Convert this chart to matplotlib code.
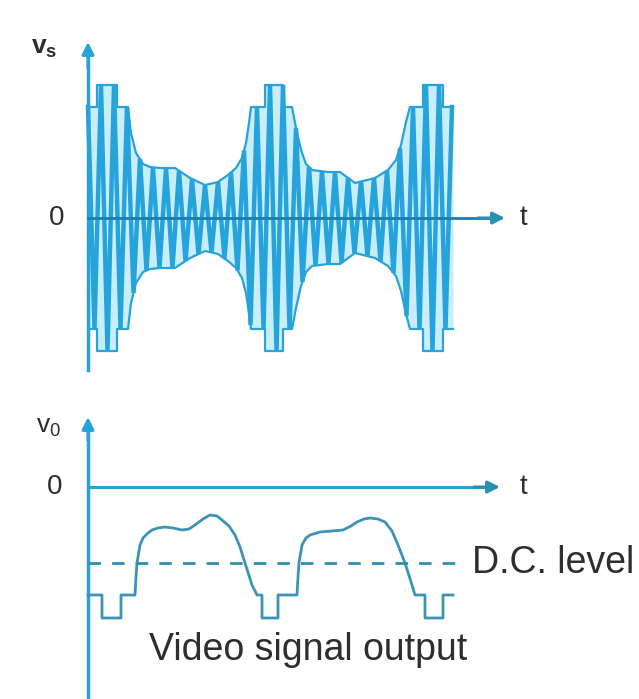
import matplotlib.pyplot as plt
import numpy as np

plt.rcParams['font.family'] = ['Liberation Sans', 'DejaVu Sans']
plt.rcParams['mathtext.default'] = 'regular'

# ---- top: modulated carrier v_s (time units, amplitude units) ----
# carrier peaks, alternating + / - , one every half cycle
half_cycle = 0.65
peak_amp = [11.1, 11.1, 13.3, 13.3, 13.3, 11.1, 11.1, 7.5, 5.9, 5.25,
            5.07, 5.0, 5.0, 5.0, 4.73, 4.3, 3.9, 3.6, 3.3, 3.45,
            3.6, 4.05, 4.55, 5.25, 6.75, 10.7, 11.1, 11.1, 13.3, 13.3,
            13.3, 11.1, 9.0, 6.4, 5.1, 4.75, 4.67, 4.6, 4.6, 4.5,
            4.0, 3.55, 3.7, 3.8, 4.0, 4.35, 4.75, 5.5, 7.0, 9.8,
            11.1, 11.1, 13.3, 13.3, 13.3, 11.1, 11.1]

# envelope outline of v_s
env_t = [0.0, 0.9, 0.9, 2.9, 2.9, 4.0, 4.3, 4.8, 5.5, 6.2, 7.2, 8.7, 10.2, 11.7,
         13.0, 14.0, 14.8, 15.4, 15.8, 16.1, 16.3, 17.7, 17.7, 19.5, 19.5, 20.4,
         20.8, 21.3, 21.8, 22.4, 24.0, 25.2, 26.7, 28.7, 30.0, 30.8, 31.3, 31.8,
         32.2, 33.5, 33.5, 35.5, 35.5, 36.5]
env_a = [11.1, 11.1, 13.3, 13.3, 11.1, 11.1, 8.5, 6.5, 5.4, 5.1, 5.0, 5.0, 4.0, 3.3,
         3.6, 4.3, 5.0, 6.0, 7.5, 9.5, 11.1, 11.1, 13.3, 13.3, 11.1, 11.1,
         9.0, 6.8, 5.4, 4.8, 4.6, 4.6, 3.5, 4.0, 4.8, 5.8, 7.3, 9.6,
         11.1, 11.1, 13.3, 13.3, 11.1, 11.1]

# ---- bottom: video signal output v_o ----
video_t = [0.0, 1.4, 1.4, 3.3, 3.3, 4.7, 4.8, 4.9, 5.2, 5.5, 6.0, 6.4, 7.0, 7.7,
           8.5, 9.4, 10.1, 10.7, 11.5, 12.2, 12.9, 13.4, 14.1, 14.7, 15.2, 15.7,
           16.4, 16.9, 17.4, 17.4, 19.0, 19.0, 20.9, 21.0, 21.1, 21.4, 21.8, 22.2,
           23.2, 24.4, 25.5, 26.3, 26.9, 27.6, 28.2, 29.0, 29.7, 30.4, 31.0, 31.7,
           32.4, 32.7, 33.7, 33.7, 35.5, 35.5, 36.5]
video_v = [-10.8, -10.8, -13.1, -13.1, -10.8, -10.8, -9.0, -7.6, -5.8, -5.1, -4.6, -4.3, -4.1, -4.0,
           -4.1, -4.3, -4.2, -3.8, -3.2, -2.8, -2.9, -3.3, -3.9, -4.8, -6.0, -7.6,
           -9.8, -10.8, -10.8, -13.1, -13.1, -10.8, -10.8, -9.0, -7.6, -5.8, -5.1, -4.8,
           -4.5, -4.4, -4.3, -3.9, -3.5, -3.2, -3.1, -3.2, -3.5, -4.4, -5.8, -7.6,
           -9.8, -10.8, -10.8, -13.1, -13.1, -10.8, -10.8]
dc_level = -7.6

blue = '#27a3dc'
dark = '#1c7db3'
txt = '#2e2e2e'

fig = plt.figure(figsize=(6.39, 6.99), dpi=100)
# 10 px per unit, origin of both plots at x = 88 px
ax1 = fig.add_axes([0, 1 - 380 / 699, 1, 380 / 699])
ax2 = fig.add_axes([0, 0, 1, 319 / 699])
for ax in (ax1, ax2):
    ax.set_xlim(-8.8, 55.1)
    ax.axis('off')
ax1.set_ylim(-16.2, 21.8)
ax2.set_ylim(-21.2, 10.7)

n = len(peak_amp)
pt = np.arange(n) * half_cycle
sign = np.where(np.arange(n) % 2 == 0, 1, -1)
amp = np.array(peak_amp)
ea = np.array(env_a)
ax1.fill_between(env_t, -ea, ea, color='#c9eefb', lw=0)
ax1.plot(pt, sign * amp, color=blue, lw=3.2, solid_joinstyle='miter')
ax1.plot(env_t, ea, color=blue, lw=1.6)
ax1.plot(env_t, -ea, color=blue, lw=1.6)

arr = dict(arrowstyle='-|>', mutation_scale=18, lw=2.2, color=blue, shrinkA=0, shrinkB=0)
ax1.plot([0, 0], [-15.2, 16.0], color=blue, lw=2.5)
ax1.annotate('', xy=(0, 17.6), xytext=(0, 15.0), arrowprops=arr)
ax1.plot([0, 40.0], [0, 0], color=dark, lw=2.0)
ax1.annotate('', xy=(41.7, 0), xytext=(39.0, 0), arrowprops=dict(arr, color='#2a8fb0'))
ax1.text(-3.1, 0, '0', fontsize=20, color=txt, ha='center', va='center')
ax1.text(43.5, 0, 't', fontsize=20, color=txt, ha='center', va='center')
ax1.text(-4.4, 17.0, r'v$_s$', fontsize=19, color=txt, ha='center', va='center',
         fontweight='bold')

ax2.plot([0, 0], [-21.0, 5.4], color=blue, lw=2.5)
ax2.annotate('', xy=(0, 7.0), xytext=(0, 4.6), arrowprops=arr)
ax2.plot([0, 40.0], [0, 0], color=blue, lw=2.2)
ax2.annotate('', xy=(41.2, 0), xytext=(38.6, 0), arrowprops=dict(arr, color='#2a8fb0'))
ax2.text(-3.3, 0, '0', fontsize=20, color=txt, ha='center', va='center')
ax2.text(43.5, 0, 't', fontsize=20, color=txt, ha='center', va='center')
ax2.text(-3.9, 6.0, r'v$_0$', fontsize=19, color=txt, ha='center', va='center')

ax2.plot(video_t, video_v, color='#3b93b8', lw=2.0)
ax2.plot([0, 36.7], [dc_level, dc_level], color='#2d8fae', lw=2.0,
         linestyle=(0, (4.5, 4)))
ax2.text(38.4, dc_level, 'D.C. level', fontsize=27, color=txt, ha='left',
         va='center')
ax2.text(22.0, -16.3, 'Video signal output', fontsize=27, color=txt,
         ha='center', va='center')

fig.savefig('out.png', dpi=100, facecolor='white')
